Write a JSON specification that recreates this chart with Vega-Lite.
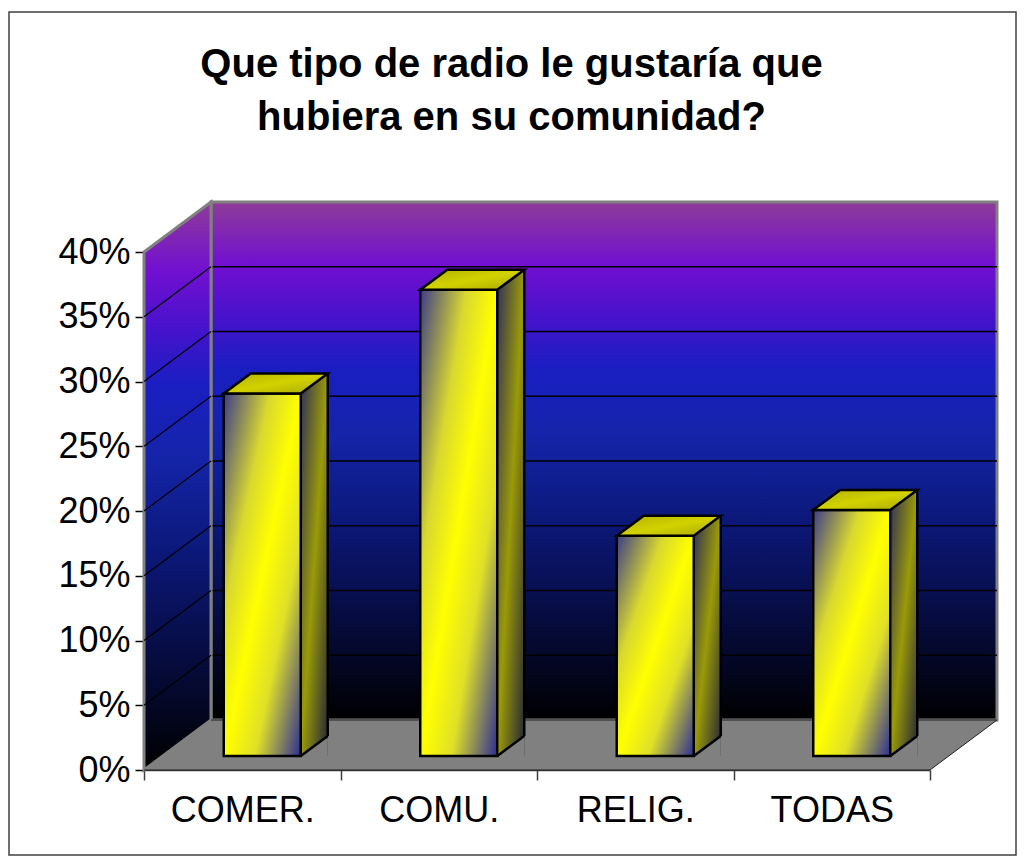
{
  "$schema": "https://vega.github.io/schema/vega-lite/v6.json",
  "width": 786,
  "height": 518,
  "autosize": {"type": "none"},
  "padding": {"left": 144, "top": 252, "right": 95, "bottom": 93},
  "background": "white",
  "config": {
    "view": {"stroke": null},
    "axisY": {"domainColor": "#808080", "domainWidth": 3, "tickColor": "#000000", "tickWidth": 1.5, "tickSize": 9, "labelFont": "Liberation Sans", "labelFontSize": 36, "labelColor": "#000000", "labelPadding": 5, "grid": false, "zindex": 1},
    "axisX": {"domainColor": "#404040", "domainWidth": 1.5, "tickColor": "#404040", "tickWidth": 1.5, "tickSize": 10, "labelFont": "Liberation Sans", "labelFontSize": 36, "labelColor": "#000000", "labelPadding": 13, "grid": false, "labelAngle": 0, "tickBand": "extent", "zindex": 1}
  },
  "datasets": {
    "bars": [
      {"categoria": "COMER.", "porcentaje": 0.28},
      {"categoria": "COMU.", "porcentaje": 0.36},
      {"categoria": "RELIG.", "porcentaje": 0.17},
      {"categoria": "TODAS", "porcentaje": 0.19}
    ],
    "ticks": [{"v": 0.05}, {"v": 0.10}, {"v": 0.15}, {"v": 0.20}, {"v": 0.25}, {"v": 0.30}, {"v": 0.35}],
    "one": [{"k": 1}]
  },
  "data": {"name": "bars"},
  "layer": [
    {
      "data": {"name": "one"},
      "mark": {"type": "point", "shape": "M-3.26,-0.5L-3.26,-5.68L4.6,-5.68L4.6,-0.5Z", "size": 40000, "filled": true, "opacity": 1,
        "fill": {"gradient": "linear", "x1": 0, "y1": 0, "x2": 0, "y2": 1, "stops": [
          {"offset": 0, "color": "#8e3c98"}, {"offset": 0.12, "color": "#7210d0"}, {"offset": 0.22, "color": "#4812cc"},
          {"offset": 0.32, "color": "#1a1ec2"}, {"offset": 0.45, "color": "#1424a8"}, {"offset": 0.62, "color": "#0b1878"},
          {"offset": 0.8, "color": "#060c40"}, {"offset": 1, "color": "#000000"}]},
        "stroke": "#808080", "strokeWidth": 3},
      "encoding": {"y": {"datum": 0, "type": "quantitative", "scale": {"domain": [0, 0.4], "nice": false},
        "axis": {"title": null, "values": [0, 0.05, 0.1, 0.15, 0.2, 0.25, 0.3, 0.35, 0.4], "format": ".0%"}}}
    },
    {
      "data": {"name": "ticks"},
      "mark": {"type": "point", "shape": "M-3.26,-0.5L4.6,-0.5", "size": 40000, "filled": false, "opacity": 1, "stroke": "#000000", "strokeWidth": 1.5},
      "encoding": {"y": {"field": "v", "type": "quantitative"}}
    },
    {
      "data": {"name": "one"},
      "mark": {"type": "point", "shape": "M-3.93,0L-3.93,-5.18L-3.26,-5.68L-3.26,-0.5Z", "size": 40000, "filled": true, "opacity": 1,
        "fill": {"gradient": "linear", "x1": 0, "y1": 0, "x2": 0, "y2": 1, "stops": [
          {"offset": 0, "color": "#8e3c98"}, {"offset": 0.12, "color": "#7210d0"}, {"offset": 0.22, "color": "#4812cc"},
          {"offset": 0.32, "color": "#1a1ec2"}, {"offset": 0.45, "color": "#1424a8"}, {"offset": 0.62, "color": "#0b1878"},
          {"offset": 0.8, "color": "#060c40"}, {"offset": 1, "color": "#000000"}]},
        "stroke": "#808080", "strokeWidth": 3},
      "encoding": {"y": {"datum": 0, "type": "quantitative"}}
    },
    {
      "data": {"name": "ticks"},
      "mark": {"type": "point", "shape": "M-3.93,0L-3.26,-0.5", "size": 40000, "filled": false, "opacity": 1, "stroke": "#000000", "strokeWidth": 1.2},
      "encoding": {"y": {"field": "v", "type": "quantitative"}}
    },
    {
      "data": {"name": "one"},
      "mark": {"type": "point", "shape": "M-3.93,0L3.93,0L4.6,-0.5L-3.26,-0.5", "size": 40000, "filled": true, "opacity": 1, "fill": "#808080", "stroke": "#202020", "strokeWidth": 1},
      "encoding": {"y": {"datum": 0, "type": "quantitative"}}
    },
    {
      "mark": {"type": "bar", "width": 27, "xOffset": 72, "yOffset": -34, "y2Offset": -14,
        "fill": {"gradient": "linear", "x1": 0, "y1": 0, "x2": 1, "y2": 1, "stops": [
          {"offset": 0, "color": "#2e2e58"}, {"offset": 0.5, "color": "#9a9a08"}, {"offset": 1, "color": "#24243a"}]},
        "strokeWidth": 0},
      "encoding": {
        "x": {"field": "categoria", "type": "nominal", "sort": null, "scale": {"paddingInner": 0, "paddingOuter": 0}, "axis": {"title": null}},
        "y": {"field": "porcentaje", "type": "quantitative"},
        "y2": {"datum": 0}
      }
    },
    {
      "mark": {"type": "rule", "xOffset": 85.5, "yOffset": -34, "y2Offset": -34, "color": "#000000", "strokeWidth": 2.5},
      "encoding": {
        "x": {"field": "categoria", "type": "nominal", "sort": null},
        "y": {"field": "porcentaje", "type": "quantitative"},
        "y2": {"datum": 0}
      }
    },
    {
      "mark": {"type": "point", "shape": "M0.385,0L0.655,0L0.655,-0.2Z", "size": 40000, "filled": true, "opacity": 1, "fill": "#808080", "strokeWidth": 0, "xOffset": 20, "yOffset": -14},
      "encoding": {
        "x": {"field": "categoria", "type": "nominal", "sort": null},
        "y": {"datum": 0, "type": "quantitative"}
      }
    },
    {
      "mark": {"type": "point", "shape": "M0.385,0L0.655,-0.2", "size": 40000, "filled": false, "opacity": 1, "stroke": "#000000", "strokeWidth": 2.5, "xOffset": 20, "yOffset": -14},
      "encoding": {
        "x": {"field": "categoria", "type": "nominal", "sort": null},
        "y": {"datum": 0, "type": "quantitative"}
      }
    },
    {
      "mark": {"type": "bar", "width": 77, "xOffset": 20, "yOffset": -14, "y2Offset": -14,
        "fill": {"gradient": "linear", "x1": 0, "y1": 0, "x2": 1, "y2": 1, "stops": [
          {"offset": 0, "color": "#3c3c88"}, {"offset": 0.3, "color": "#d8d830"}, {"offset": 0.5, "color": "#ffff00"}, {"offset": 0.7, "color": "#e0e028"}, {"offset": 1, "color": "#2c2c96"}]},
        "stroke": "#000000", "strokeWidth": 2.5},
      "encoding": {
        "x": {"field": "categoria", "type": "nominal", "sort": null},
        "y": {"field": "porcentaje", "type": "quantitative"},
        "y2": {"datum": 0}
      }
    },
    {
      "mark": {"type": "point", "shape": "M-0.385,0L0.385,0L0.655,-0.2L-0.115,-0.2Z", "size": 40000, "filled": true, "opacity": 1, "xOffset": 20, "yOffset": -14,
        "fill": {"gradient": "linear", "x1": 0, "y1": 0, "x2": 1, "y2": 1, "stops": [
          {"offset": 0, "color": "#b0b000"}, {"offset": 0.5, "color": "#d2d200"}, {"offset": 1, "color": "#a8a800"}]},
        "stroke": "#000000", "strokeWidth": 2.5, "strokeJoin": "miter"},
      "encoding": {
        "x": {"field": "categoria", "type": "nominal", "sort": null},
        "y": {"field": "porcentaje", "type": "quantitative"}
      }
    },
    {
      "data": {"name": "one"},
      "mark": {"type": "point", "shape": "M-5.28,-7.58L4.79,-7.58L4.79,0.85L-5.28,0.85Z", "size": 40000, "filled": false, "opacity": 1, "stroke": "#404040", "strokeWidth": 1.5},
      "encoding": {"y": {"datum": 0, "type": "quantitative"}}
    },
    {
      "data": {"name": "one"},
      "mark": {"type": "text", "text": ["Que tipo de radio le gustaría que", "hubiera en su comunidad?"], "font": "Liberation Sans", "fontSize": 40, "fontWeight": "bold", "color": "#000000", "align": "center", "baseline": "alphabetic", "lineHeight": 53, "dx": -25.5, "dy": -434},
      "encoding": {}
    }
  ]
}
